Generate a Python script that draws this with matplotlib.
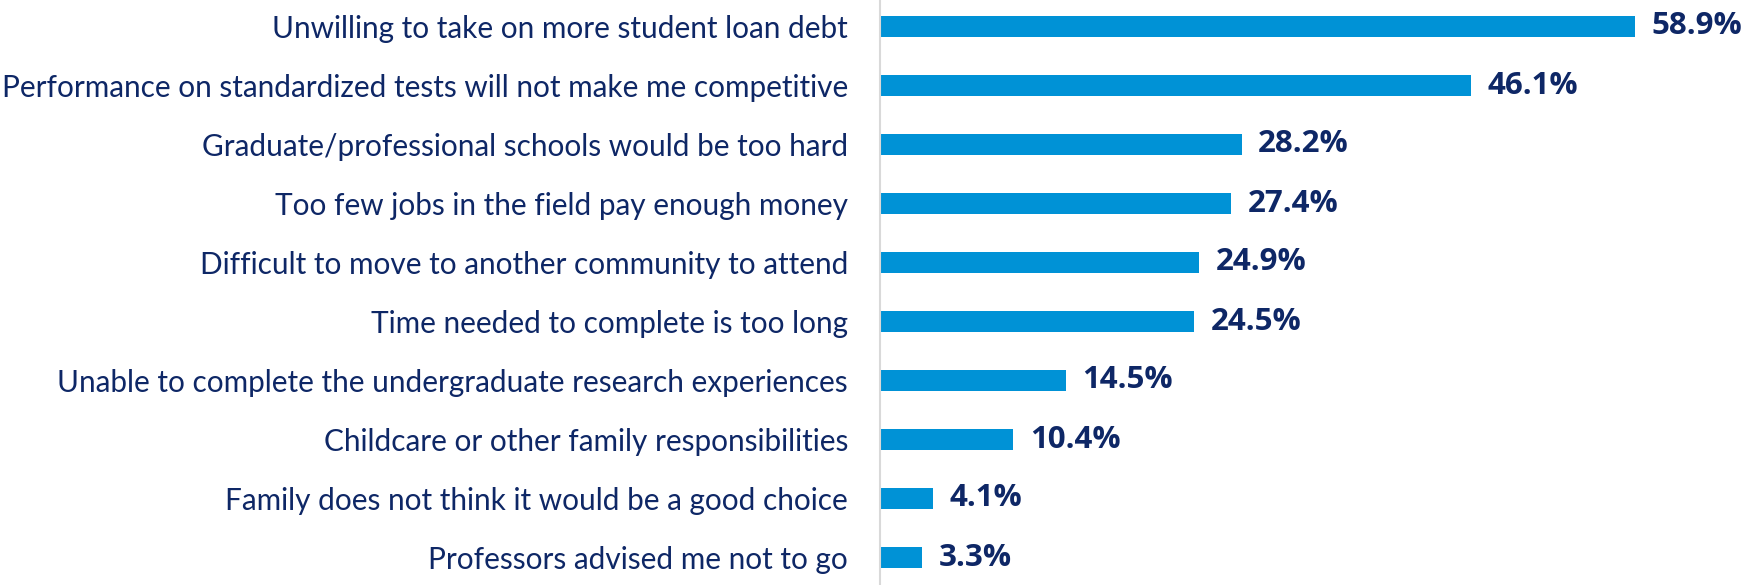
import numpy as np
import matplotlib.pyplot as plt

# Reasons for not pursuing graduate/professional school
reasons = [
    "Unwilling to take on more student loan debt",
    "Performance on standardized tests will not make me competitive",
    "Graduate/professional schools would be too hard",
    "Too few jobs in the field pay enough money",
    "Difficult to move to another community to attend",
    "Time needed to complete is too long",
    "Unable to complete the undergraduate research experiences",
    "Childcare or other family responsibilities",
    "Family does not think it would be a good choice",
    "Professors advised me not to go",
]
percents = [58.9, 46.1, 28.2, 27.4, 24.9, 24.5, 14.5, 10.4, 4.1, 3.3]

bar_color = "#0092D6"
text_color = "#0E2766"

W, H = 1748, 585
fig = plt.figure(figsize=(W / 100, H / 100), dpi=100)
ax = fig.add_axes([880 / W, -2 / H, 868 / W, 590 / H])

y = np.arange(len(reasons))
ax.barh(y, percents, height=0.36, color=bar_color)
ax.set_ylim(len(reasons) - 0.5, -0.5)
ax.set_xlim(0, 868 / 12.82)

ax.set_yticks(y)
ax.set_yticklabels(reasons, fontsize=21.4, color=text_color, family="Lato")
ax.tick_params(axis="y", length=0, pad=23)
ax.set_xticks([])

for s in ["top", "right", "bottom"]:
    ax.spines[s].set_visible(False)
ax.spines["left"].set_color("#D9D9D9")
ax.spines["left"].set_linewidth(1.5)

for yi, p in zip(y, percents):
    ax.annotate(f"{p}%", (p, yi), xytext=(12, 0), textcoords="offset points",
                va="center", ha="left", fontsize=22.5, fontweight="bold",
                color=text_color, family="Open Sans")

fig.savefig("out.png", dpi=100)
plt.close()
